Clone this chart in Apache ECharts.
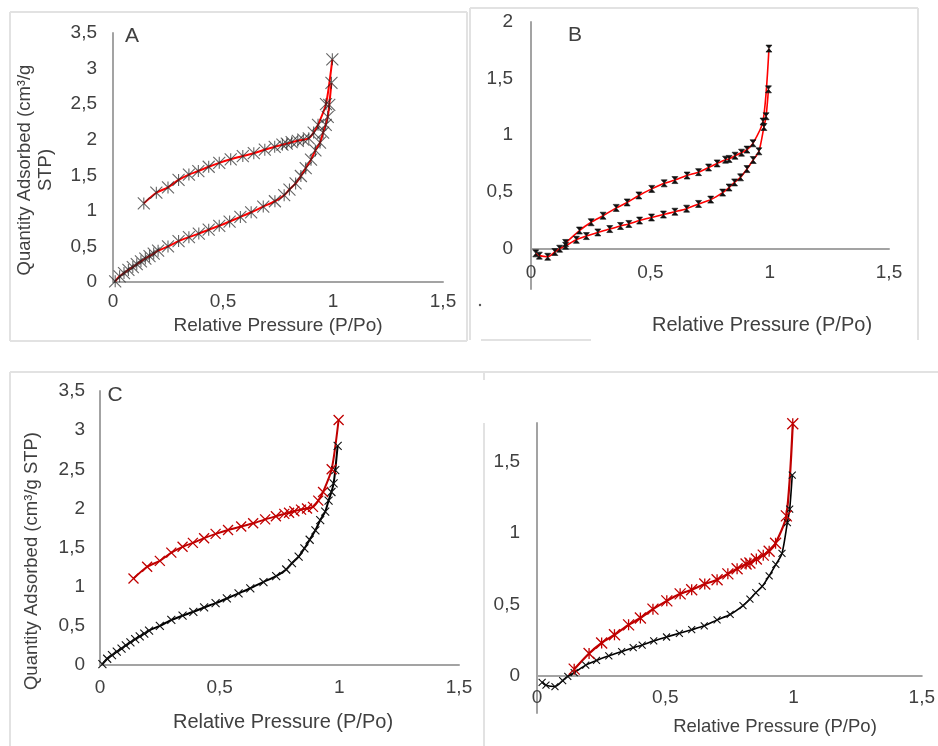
<!DOCTYPE html>
<html>
<head>
<meta charset="utf-8">
<script src="https://cdn.jsdelivr.net/npm/echarts@6/dist/echarts.min.js"></script>
<style>
  html, body { margin: 0; padding: 0; background: #ffffff; }
  #chart { width: 938px; height: 746px; }
</style>
</head>
<body>
<div id="chart"></div>
<script>
// Sample 1 (panels A and C): nitrogen isotherm, [P/Po, quantity adsorbed cm3/g STP]
const adsorption1 = [
  [0.01, 0.01], [0.03, 0.08], [0.05, 0.125], [0.07, 0.17], [0.09, 0.21], [0.108, 0.25],
  [0.127, 0.29], [0.147, 0.33], [0.166, 0.365], [0.185, 0.40], [0.205, 0.44], [0.25, 0.50],
  [0.298, 0.575], [0.345, 0.63], [0.39, 0.68], [0.435, 0.735], [0.483, 0.79], [0.53, 0.85],
  [0.579, 0.915], [0.628, 0.98], [0.683, 1.06], [0.736, 1.135], [0.778, 1.22], [0.802, 1.30],
  [0.83, 1.385], [0.854, 1.49], [0.876, 1.60], [0.90, 1.72], [0.92, 1.85], [0.941, 1.96],
  [0.955, 2.10], [0.967, 2.21], [0.976, 2.32], [0.983, 2.49], [0.993, 2.80]
];
const desorption1 = [
  [0.997, 3.13], [0.968, 2.50], [0.932, 2.21], [0.912, 2.10], [0.89, 2.02], [0.865, 2.00],
  [0.84, 1.985], [0.812, 1.965], [0.79, 1.945], [0.77, 1.93], [0.735, 1.90], [0.69, 1.86],
  [0.64, 1.81], [0.59, 1.77], [0.535, 1.725], [0.483, 1.675], [0.435, 1.62], [0.388, 1.56],
  [0.345, 1.51], [0.298, 1.435], [0.25, 1.33], [0.197, 1.255], [0.14, 1.105]
];

// Sample 2 (panels B and D)
const adsorption2 = [
  [0.02, -0.045], [0.035, -0.065], [0.07, -0.075], [0.10, -0.033], [0.12, -0.004], [0.145, 0.022],
  [0.19, 0.075], [0.232, 0.108], [0.28, 0.14], [0.33, 0.17], [0.375, 0.197], [0.41, 0.215],
  [0.455, 0.245], [0.505, 0.272], [0.555, 0.298], [0.603, 0.323], [0.652, 0.35], [0.702, 0.392],
  [0.753, 0.43], [0.803, 0.492], [0.83, 0.537], [0.853, 0.582], [0.878, 0.627], [0.905, 0.70],
  [0.931, 0.78], [0.955, 0.857], [0.976, 1.072], [0.985, 1.167], [0.995, 1.405]
];
const desorption2 = [
  [0.997, 1.765], [0.972, 1.12], [0.93, 0.928], [0.905, 0.872], [0.882, 0.845], [0.855, 0.818],
  [0.83, 0.79], [0.815, 0.783], [0.78, 0.75], [0.744, 0.714], [0.702, 0.673], [0.654, 0.643],
  [0.603, 0.603], [0.558, 0.574], [0.506, 0.525], [0.452, 0.467], [0.403, 0.405], [0.357, 0.357],
  [0.302, 0.288], [0.252, 0.23], [0.203, 0.157], [0.145, 0.047]
];

const panelLetters = ['A', 'B', 'C'];
const xTitle = 'Relative Pressure (P/Po)';
const yTitleShort = 'Quantity Adsorbed (cm³/g\nSTP)';
const yTitleLong = 'Quantity Adsorbed (cm³/g STP)';

const FONT = '"Liberation Sans", Arial, sans-serif';
const TEXT = '#404040';
const AXIS = '#a3a3a3';
const FRAME = '#e2e2e2';
const RED = '#ff0000';
const DARK_RED = '#c00000';

const SYM_STAR = 'path://M0,0L10,10M10,0L0,10M5,0L5,10';
const SYM_X = 'path://M0,0L10,10M10,0L0,10';
const SYM_GLASS = 'path://M0,0L10,0L0,10L10,10Z';

// decimal comma, and only labels on multiples of 0.5
function tickFmt(v) {
  if (Math.abs(v * 2 - Math.round(v * 2)) > 1e-6) return '';
  return String(Math.round(v * 10) / 10).replace('.', ',');
}

// grid geometry; the x axis of B and D sits on y = 0, raised from the grid bottom
const grids = [
  { left: 113, top: 33, width: 330, height: 249, yMin: 0, yMax: 3.5 },
  { left: 531, top: 22, width: 358, height: 267, yMin: -0.36, yMax: 2 },
  { left: 100, top: 391, width: 359, height: 274, yMin: 0, yMax: 3.5 },
  { left: 537, top: 423, width: 387, height: 290, yMin: -0.26, yMax: 1.77 }
];
function zeroOffset(g) {
  return -g.height * (0 - g.yMin) / (g.yMax - g.yMin);
}

function xAxisFor(gi, margin) {
  return {
    type: 'value', gridIndex: gi, min: 0, max: 1.5, interval: 0.5,
    position: 'bottom', offset: zeroOffset(grids[gi]),
    axisLine: { onZero: false, lineStyle: { color: AXIS, width: 2 } },
    axisTick: { show: false }, splitLine: { show: false },
    axisLabel: { margin: margin, fontSize: 19, color: TEXT, fontFamily: FONT, formatter: tickFmt }
  };
}
function yAxisFor(gi, interval, margin) {
  const g = grids[gi];
  const ax = {
    type: 'value', gridIndex: gi, min: g.yMin, max: g.yMax,
    axisLine: { onZero: false, lineStyle: { color: AXIS, width: 2 } },
    axisTick: { show: false }, splitLine: { show: false },
    axisLabel: { margin: margin, fontSize: 19, color: TEXT, fontFamily: FONT, formatter: tickFmt }
  };
  if (interval) ax.interval = interval;
  return ax;
}
function branch(gi, data, lineColor, lineWidth, symbol, size, markColor, markWidth, opacity) {
  return {
    type: 'line', xAxisIndex: gi, yAxisIndex: gi, data: data,
    smooth: 0.25, showSymbol: true, symbol: symbol, symbolSize: size,
    lineStyle: { color: lineColor, width: lineWidth },
    itemStyle: { color: markColor, borderColor: markColor, borderWidth: markWidth, opacity: opacity },
    emphasis: { disabled: true }, animation: false
  };
}

function label(x, y, text, size, extra) {
  return Object.assign({
    type: 'text', x: x, y: y,
    style: { text: text, fontSize: size, fontFamily: FONT, fill: TEXT, align: 'center', verticalAlign: 'middle' }
  }, extra || {});
}
function rule(x1, y1, x2, y2) {
  return { type: 'line', shape: { x1: x1, y1: y1, x2: x2, y2: y2 }, style: { stroke: FRAME, lineWidth: 2 }, silent: true };
}

const chart = echarts.init(document.getElementById('chart'), null, { renderer: 'canvas' });
chart.setOption({
  animation: false,
  backgroundColor: '#ffffff',
  grid: grids.map(g => ({ left: g.left, top: g.top, width: g.width, height: g.height })),
  xAxis: [xAxisFor(0, 10), xAxisFor(1, 15), xAxisFor(2, 13), xAxisFor(3, 12)],
  yAxis: [yAxisFor(0, 0.5, 16), yAxisFor(1, null, 18), yAxisFor(2, 0.5, 15), yAxisFor(3, null, 17)],
  series: [
    branch(0, adsorption1, RED, 2, SYM_STAR, 12, '#222222', 1.1, 0.7),
    branch(0, desorption1, RED, 2, SYM_STAR, 12, '#222222', 1.1, 0.7),
    branch(1, adsorption2, RED, 1.6, SYM_GLASS, [6, 7], '#111111', 0.6, 1),
    branch(1, desorption2, RED, 1.6, SYM_GLASS, [6, 7], '#111111', 0.6, 1),
    branch(2, adsorption1, '#000000', 2, SYM_X, 8, '#111111', 1.1, 1),
    branch(2, desorption1, DARK_RED, 2, SYM_X, 10, DARK_RED, 1.3, 1),
    branch(3, adsorption2, '#000000', 1.6, SYM_X, 7, '#111111', 1.1, 1),
    branch(3, desorption2, DARK_RED, 2.2, SYM_STAR, 11, DARK_RED, 1.3, 1)
  ],
  graphic: [
    // panel frames
    rule(10, 12, 467, 12), rule(10, 12, 10, 341), rule(10, 341, 467, 341), rule(467, 12, 467, 341),
    rule(470, 8, 918, 8), rule(470, 8, 470, 340), rule(918, 8, 918, 340), rule(481, 340, 591, 340),
    rule(10, 372, 938, 372), rule(10, 372, 10, 746), rule(484, 372, 484, 380), rule(484, 423, 484, 746),
    { type: 'circle', shape: { cx: 480, cy: 305, r: 1.2 }, style: { fill: '#555555' }, silent: true },
    // panel letters
    label(132, 36, panelLetters[0], 21),
    label(575, 35, panelLetters[1], 21),
    label(115, 395, panelLetters[2], 21),
    // axis titles
    label(278, 326, xTitle, 19),
    label(762, 325, xTitle, 20),
    label(283, 722, xTitle, 20),
    label(775, 727, xTitle, 18.5),
    label(35, 170, yTitleShort, 18.5, { rotation: Math.PI / 2, style: {
      text: yTitleShort, fontSize: 18.5, fontFamily: FONT, fill: TEXT, align: 'center', verticalAlign: 'middle', lineHeight: 21 } }),
    label(32, 561, yTitleLong, 18.5, { rotation: Math.PI / 2 })
  ]
});
</script>
</body>
</html>
